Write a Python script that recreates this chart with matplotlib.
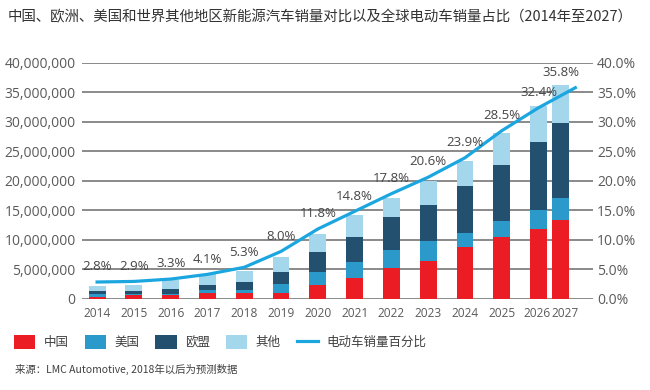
import numpy as np
import matplotlib
matplotlib.use("Agg")
import matplotlib.pyplot as plt
from matplotlib.patches import Patch
from matplotlib.lines import Line2D
from matplotlib.ticker import FuncFormatter, MultipleLocator

plt.rcParams['font.family'] = ['Open Sans', 'Noto Sans CJK SC', 'DejaVu Sans']
CJK = ['Noto Sans CJK SC', 'DejaVu Sans']

years = ['2014', '2015', '2016', '2017', '2018', '2019', '2020',
         '2021', '2022', '2023', '2024', '2025', '2026', '2027']
# sales, vehicles
china = [300000, 550000, 600000, 850000, 1000000, 960000, 2300000,
         3540000, 5240000, 6380000, 8810000, 10500000, 11800000, 13350000]
usa = [400000, 150000, 230000, 570000, 500000, 1470000, 2270000,
       2720000, 3000000, 3400000, 2270000, 2660000, 3230000, 3800000]
eu = [650000, 650000, 730000, 850000, 1300000, 2100000, 3400000,
      4140000, 5560000, 6120000, 8050000, 9520000, 11600000, 12640000]
other = [750000, 900000, 1500000, 1870000, 1870000, 2440000, 3000000,
         3850000, 3230000, 4140000, 4140000, 5500000, 6070000, 6400000]
# global EV share, %
share = [2.8, 2.9, 3.3, 4.1, 5.3, 8.0, 11.8, 14.8, 17.8, 20.6, 23.9, 28.5, 32.4, 35.8]

series_names = ['中国', '美国', '欧盟', '其他']
line_name = '电动车销量百分比'
colors = ['#ec1c24', '#2b9acb', '#23506f', '#a4d6ec']
line_color = '#1ba6e0'
grid_color = '#8a8a8a'
tick_color = '#5a5a5a'
label_color = '#454545'

W, H = 650, 390
fig = plt.figure(figsize=(6.5, 3.9), dpi=100)
ax = fig.add_axes([82 / W, 1 - 298.5 / H, (593 - 82) / W, (298.5 - 63) / H])

pos = np.arange(len(years), dtype=float)
bar_pos = pos.copy()
bar_pos[-1] = 12.6   # last bar squeezed next to 2026 in the original

bottom = np.zeros(len(years))
for vals, c in zip([china, usa, eu, other], colors):
    ax.bar(bar_pos, vals, width=0.46, bottom=bottom, color=c, zorder=2)
    bottom += np.array(vals)

ax.set_xlim(-0.41, 13.48)
ax.set_ylim(0, 40e6)
ax.yaxis.set_major_locator(MultipleLocator(5e6))
ax.yaxis.set_major_formatter(FuncFormatter(lambda v, p: f'{v:,.0f}'))
tick_pos = bar_pos.copy()
tick_pos[-2] -= 0.04
tick_pos[-1] += 0.12
ax.set_xticks(tick_pos)
ax.set_xticklabels(years)
ax.yaxis.grid(True, color=grid_color, lw=1.4)
ax.set_axisbelow(True)
for s in ax.spines.values():
    s.set_visible(False)
ax.tick_params(axis='y', length=0, pad=4.5, labelsize=10, labelcolor=tick_color)
ax.tick_params(axis='x', length=0, pad=6, labelsize=8.6, labelcolor=tick_color)

ax2 = ax.twinx()
ax2.set_ylim(0, 40)
ax2.yaxis.set_major_locator(MultipleLocator(5))
ax2.yaxis.set_major_formatter(FuncFormatter(lambda v, p: f'{v:.1f}%'))
for s in ax2.spines.values():
    s.set_visible(False)
ax2.tick_params(axis='y', length=0, pad=3, labelsize=10, labelcolor=tick_color)
ax2.plot(pos, share, color=line_color, lw=2.3, zorder=3)
for bx, p in zip(bar_pos, share):
    ax2.annotate(f'{p:.1f}%', (bx, p), xytext=(0, 11), textcoords='offset points',
                 ha='center', va='center', fontsize=9.5, color=label_color)

fig.text(8 / W, 1 - 17 / H,
         '中国、欧洲、美国和世界其他地区新能源汽车销量对比以及全球电动车销量占比（2014年至2027）',
         fontsize=10.4, family=CJK, va='center', ha='left', color='#333333')

handles = [Patch(facecolor=c, edgecolor='none') for c in colors]
handles.append(Line2D([], [], color=line_color, lw=2.3))
fig.legend(handles, series_names + [line_name], loc='upper left',
           bbox_to_anchor=(14 / W, 1 - 335 / H), ncol=5, frameon=False,
           prop={'family': CJK, 'size': 9}, labelcolor='#404040',
           handlelength=1.7, handleheight=1.35, handletextpad=0.65,
           columnspacing=1.3, borderpad=0, borderaxespad=0)

fig.text(15 / W, 1 - 369 / H, '来源：LMC Automotive, 2018年以后为预测数据',
         fontsize=7.5, family=CJK, va='center', ha='left', color='#404040')

fig.savefig('out.png', dpi=100)
